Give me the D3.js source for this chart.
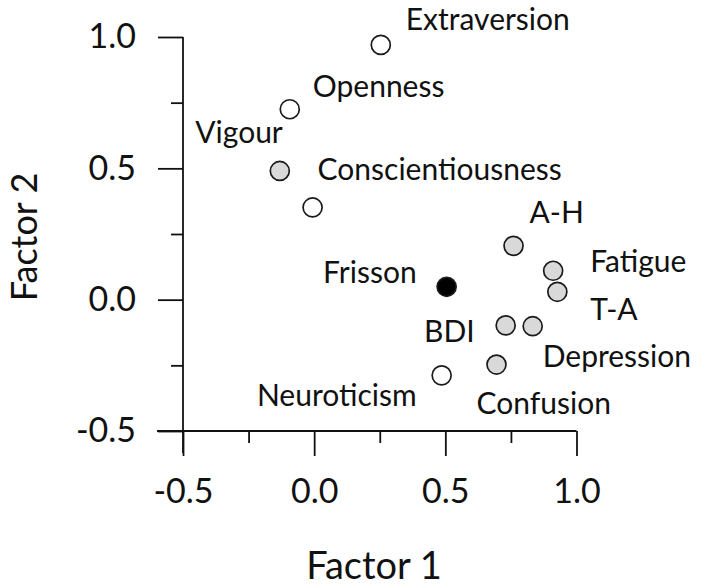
<!DOCTYPE html>
<html>
<head>
<meta charset="utf-8">
<script src="https://cdn.jsdelivr.net/npm/d3@7"></script>
<style>
  body { margin: 0; background: #fff; }
  text { font-family: Lato, "Open Sans", sans-serif; fill: #111; }
</style>
</head>
<body>
<div id="chart"></div>
<script>
// Factor loadings scatter

// data
let names   = ["Extraversion", "Openness", "Vigour", "Conscientiousness", "Frisson", "A-H",
               "Fatigue", "T-A", "BDI", "Depression", "Confusion", "Neuroticism"];
let factor1 = [0.254, -0.093, -0.131, -0.006, 0.505, 0.760, 0.911, 0.927, 0.730, 0.833, 0.695, 0.486];
let factor2 = [0.970, 0.725, 0.490, 0.351, 0.049, 0.205, 0.110, 0.030, -0.098, -0.101, -0.247, -0.288];
let groups  = ["trait", "trait", "mood", "trait", "frisson", "mood",
               "mood", "mood", "mood", "mood", "mood", "trait"];
let majorTicks = [-0.5, 0.0, 0.5, 1.0];
let minorTicks = [-0.25, 0.25, 0.75];

// label placement, px from the point: [dx, dy, anchor]
let labelLayout = [
    [25, -15, "start"], [23, -12, "start"], [3, -28, "end"], [5, -27, "start"],
    [-30, -4, "end"], [16, -23, "start"], [37, 1, "start"], [33, 28, "start"],
    [-31, 17, "end"], [10, 41, "start"], [-20, 49, "start"], [-25, 31, "end"]
];

let fills = {trait: "#ffffff", mood: "#d9d9d9", frisson: "#000000"};

let width = 702, height = 586;

let svg = d3.select("#chart").append("svg")
    .attr("width", width)
    .attr("height", height);

// Scales
let x = d3.scaleLinear().domain([-0.5, 1.0]).range([183, 576.5]);
let y = d3.scaleLinear().domain([-0.5, 1.0]).range([431, 37]);

// Axis lines
svg.append("line")
    .attr("x1", x(-0.5) - 26).attr("x2", x(1.0))
    .attr("y1", y(-0.5)).attr("y2", y(-0.5))
    .attr("stroke", "#111").attr("stroke-width", 1.8);

svg.append("line")
    .attr("x1", x(-0.5)).attr("x2", x(-0.5))
    .attr("y1", y(1.0)).attr("y2", y(-0.5) + 22)
    .attr("stroke", "#111").attr("stroke-width", 1.8);

// x axis ticks
let xMajor = svg.append("g")
    .attr("class", "axis x-axis")
    .attr("transform", `translate(0, ${y(-0.5)})`)
    .call(d3.axisBottom(x).tickValues(majorTicks).tickSize(25).tickPadding(23).tickFormat(d3.format(".1f")));

let xMinor = svg.append("g")
    .attr("transform", `translate(0, ${y(-0.5)})`)
    .call(d3.axisBottom(x).tickValues(minorTicks).tickSize(12).tickFormat(""));

// y axis ticks
let yMajor = svg.append("g")
    .attr("class", "axis y-axis")
    .attr("transform", `translate(${x(-0.5)}, 0)`)
    .call(d3.axisLeft(y).tickValues(majorTicks).tickSize(25).tickPadding(22).tickFormat(d3.format(".1f")));

let yMinor = svg.append("g")
    .attr("transform", `translate(${x(-0.5)}, 0)`)
    .call(d3.axisLeft(y).tickValues(minorTicks).tickSize(12).tickFormat(""));

svg.selectAll(".domain").remove();
svg.selectAll(".tick line").attr("stroke", "#111").attr("stroke-width", 1.8);
svg.selectAll(".tick text")
    .style("font-size", "34px")
    .style("font-family", "Lato, 'Open Sans', sans-serif")
    .attr("fill", "#111");
// d3 uses U+2212 for negatives, the picture has a plain hyphen
svg.selectAll(".tick text").text(function () { return this.textContent.replace("\u2212", "-"); });

// Axis titles
svg.append("text")
    .attr("x", 374)
    .attr("y", 579)
    .attr("text-anchor", "middle")
    .style("font-size", "38px")
    .text("Factor 1");

svg.append("text")
    .attr("transform", "translate(37, 237) rotate(-90)")
    .attr("text-anchor", "middle")
    .style("font-size", "36px")
    .text("Factor 2");

// Points
let points = names.map((n, i) => ({name: n, f1: factor1[i], f2: factor2[i], group: groups[i], lab: labelLayout[i]}));

svg.selectAll("circle.point")
    .data(points)
    .enter()
    .append("circle")
    .attr("class", "point")
    .attr("cx", d => x(d.f1))
    .attr("cy", d => y(d.f2))
    .attr("r", 9.5)
    .attr("fill", d => fills[d.group])
    .attr("stroke", "#1a1a1a")
    .attr("stroke-width", 1.7);

// Labels
svg.selectAll("text.label")
    .data(points)
    .enter()
    .append("text")
    .attr("class", "label")
    .attr("x", d => x(d.f1) + d.lab[0])
    .attr("y", d => y(d.f2) + d.lab[1])
    .attr("text-anchor", d => d.lab[2])
    .style("font-size", "30px")
    .text(d => d.name);
</script>
</body>
</html>
